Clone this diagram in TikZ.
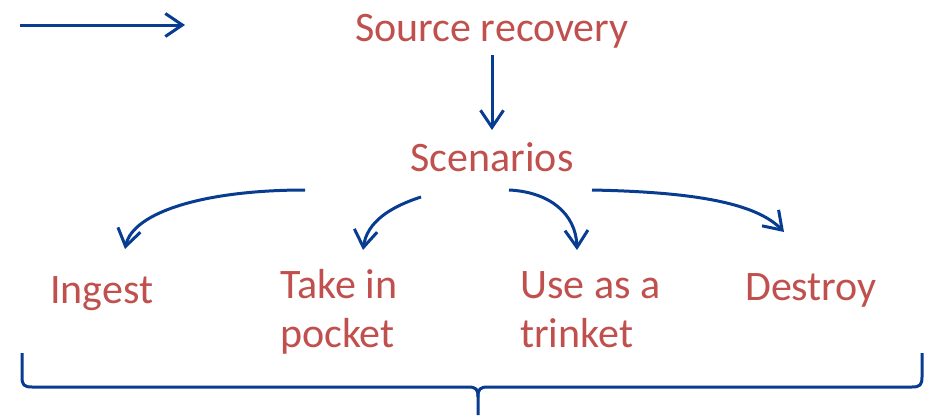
\documentclass[tikz,border=0pt]{standalone}
\usepackage{fontspec}
\setmainfont{Carlito}
\usetikzlibrary{arrows.meta}
\definecolor{labelred}{RGB}{192,80,77}
\definecolor{lineblue}{RGB}{8,60,145}
\tikzset{
  lbl/.style={text=labelred, font=\fontsize{42}{49}\selectfont, inner sep=0pt},
  conn/.style={draw=lineblue, line width=3pt,
    -{Straight Barb[length=17pt,width=23pt,line width=3pt]}},
  bracel/.style={draw=lineblue, line width=3pt}
}
\begin{document}
\begin{tikzpicture}[x=1pt,y=-1pt]
  \useasboundingbox (0,0) rectangle (942,415);
  % legend arrow
  \coordinate (la) at (20,25);
  \coordinate (lb) at (185,25);
  \draw[conn] (la) -- (lb);
  % main labels
  \node[lbl, anchor=base] (src) at (492,41) {Source recovery};
  \node[lbl, anchor=base] (scn) at (492,171) {Scenarios};
  \coordinate (srcb) at (492,55);
  \coordinate (scnt) at (492,130);
  \draw[conn] (srcb) -- (scnt);
  % scenario labels
  \node[lbl, anchor=base west] (ing) at (50,303) {Ingest};
  \node[lbl, anchor=base west, align=left] (tip) at (280,347) {Take in\\pocket};
  \node[lbl, anchor=base west, align=left] (uat) at (520,347) {Use as a\\trinket};
  \node[lbl, anchor=base west] (des) at (745,300) {Destroy};
  % curved connectors
  \coordinate (s1) at (305,190); \coordinate (e1) at (125,249);
  \coordinate (s2) at (421,197); \coordinate (e2) at (363,250);
  \coordinate (s3) at (509,190); \coordinate (e3) at (577,250);
  \coordinate (s4) at (592,190); \coordinate (e4) at (784,232);
  \draw[conn] (s1) .. controls (205,190) and (133,212) .. (e1);
  \draw[conn] (s2) .. controls (390,207) and (367,222) .. (e2);
  \draw[conn] (s3) .. controls (550,192) and (576,214) .. (e3);
  \draw[conn] (s4) .. controls (690,192) and (755,202) .. (e4);
  % bottom brace
  \coordinate (bl) at (22,353);
  \coordinate (br) at (922,353);
  \coordinate (bm) at (478,415);
  \draw[bracel, line join=round]
    (bl) -- (22,377) .. controls (22,385) and (24,387) .. (32,387)
    -- (468,387) .. controls (476,387) and (478,389) .. (478,397)
    -- (bm);
  \draw[bracel, line join=round]
    (br) -- (922,377) .. controls (922,385) and (920,387) .. (912,387)
    -- (488,387) .. controls (480,387) and (478,389) .. (478,397);
\end{tikzpicture}
\end{document}
